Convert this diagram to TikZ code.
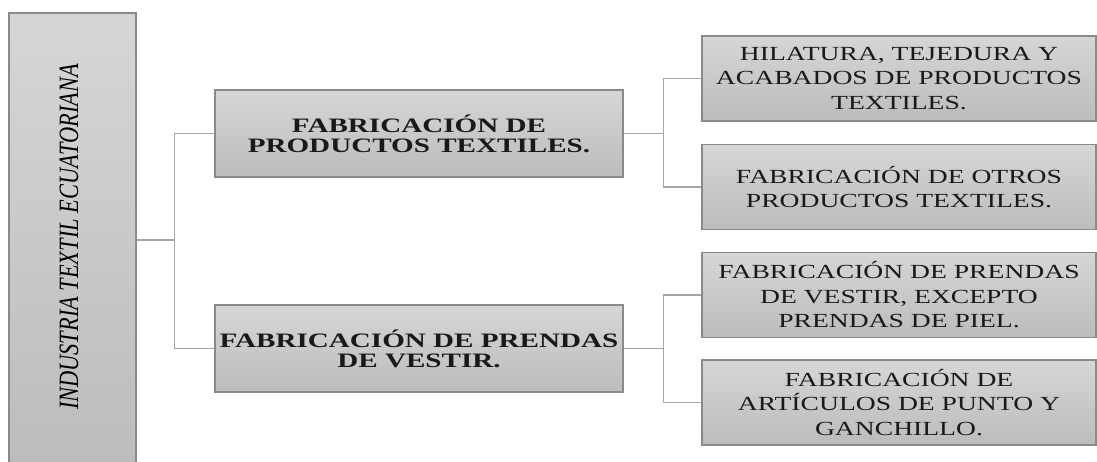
\documentclass[tikz,border=0pt]{standalone}
\usepackage{fontspec}
\setmainfont{Liberation Serif}
\newfontfamily\midfont[FakeStretch=1.42]{Liberation Serif}
\newfontfamily\leaffont[FakeStretch=1.38]{Liberation Serif}
\definecolor{boxtop}{HTML}{D6D6D6}
\definecolor{boxbot}{HTML}{BCBCBC}
\definecolor{boxline}{HTML}{8A8A8A}
\definecolor{connline}{HTML}{A6A6A6}
\begin{document}
\begin{tikzpicture}[x=1pt,y=-1pt,
  box/.style={draw=boxline,line width=1.2pt,top color=boxtop,bottom color=boxbot,
    align=center,inner sep=0pt,text=black!90},
  midbox/.style={box,minimum width=408pt,minimum height=87pt,
    font=\midfont\fontsize{20.5}{20}\selectfont\bfseries},
  leafbox/.style={box,minimum width=394pt,minimum height=85pt,
    font=\leaffont\fontsize{20}{24.5}\selectfont},
  conn/.style={draw=connline,line width=1.2pt}]
\clip (0,0) rectangle (1097,461);
\node[box,minimum width=127pt,minimum height=454pt] (root) at (72.5,240) {};
\node[rotate=90,font=\fontsize{28}{28}\selectfont\itshape] (roottext) at (69,237)
  {\scalebox{0.8}[1.0]{INDUSTRIA TEXTIL ECUATORIANA}};
\node[midbox] (m1) at (419,133.5) {FABRICACIÓN DE\\PRODUCTOS TEXTILES.};
\node[midbox] (m2) at (419,348.5) {FABRICACIÓN DE PRENDAS\\DE VESTIR.};
\node[leafbox] (r1) at (899,78.5) {HILATURA, TEJEDURA Y\\ACABADOS DE PRODUCTOS\\TEXTILES.};
\node[leafbox] (r2) at (899,187) {FABRICACIÓN DE OTROS\\PRODUCTOS TEXTILES.};
\node[leafbox] (r3) at (899,295) {FABRICACIÓN DE PRENDAS\\DE VESTIR, EXCEPTO\\PRENDAS DE PIEL.};
\node[leafbox] (r4) at (899,402.5) {FABRICACIÓN DE\\ARTÍCULOS DE PUNTO Y\\GANCHILLO.};
\draw[conn] (root.east) -- ++(38,0) coordinate (j0);
\draw[conn] (m1.west) -| (j0);
\draw[conn] (m2.west) -| (j0);
\draw[conn] (m1.east) -- ++(40,0) coordinate (j1);
\draw[conn] (r1.west) -| (j1);
\draw[conn] (r2.west) -| (j1);
\draw[conn] (m2.east) -- ++(40,0) coordinate (j2);
\draw[conn] (r3.west) -| (j2);
\draw[conn] (r4.west) -| (j2);
\end{tikzpicture}
\end{document}
